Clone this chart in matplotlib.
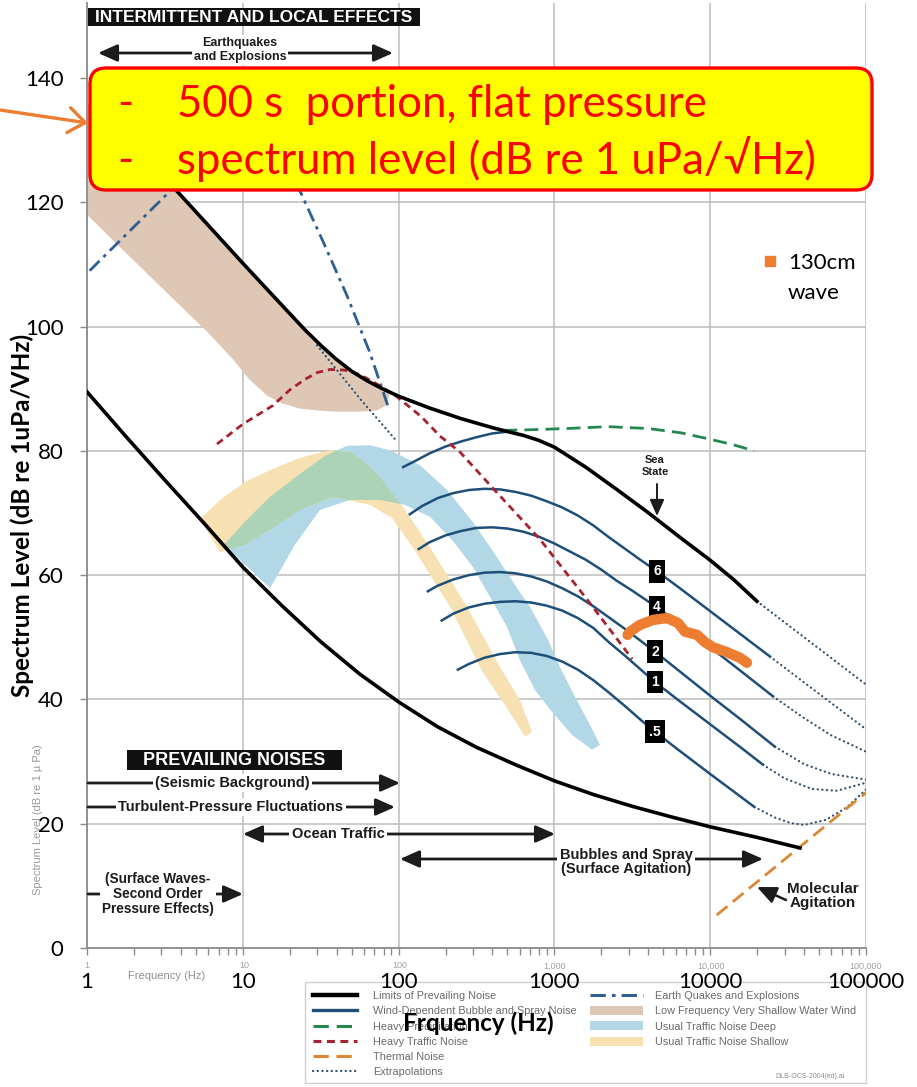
import matplotlib
matplotlib.use("Agg")
import matplotlib.pyplot as plt
import matplotlib.transforms as mtransforms
from matplotlib.patches import FancyBboxPatch, FancyArrowPatch, Rectangle, Patch
from matplotlib.lines import Line2D
from matplotlib.ticker import LogLocator, NullFormatter

W, H = 917, 1087

# ---------------- Wenz curve data (frequency Hz, level dB) ----------------
# limits of prevailing noise
upper_f = [1.5, 2.5, 3.78, 6, 10, 15.6, 25, 31.6, 39.8, 50.1, 63.1, 79.4, 100, 158,
           251, 398, 501, 631, 794, 1000, 1585, 2512, 3981, 6310, 10000, 14125, 19950]
upper_db = [132, 126.5, 121.8, 116.3, 110.2, 105, 99.5, 97.0, 94.75, 92.8, 91.25,
            89.95, 88.8, 86.9, 85.2, 83.75, 83.1, 82.5, 81.7, 80.6, 77.4, 73.8, 70.1,
            66.2, 62.4, 59.3, 55.8]
lower_f = [1, 1.78, 3.16, 5.62, 10, 17.8, 31.6, 56.2, 100, 178, 316, 562, 1000, 1778,
           3162, 5623, 10000, 20000, 37700]
lower_db = [89.5, 82.3, 75.3, 68.4, 61.3, 55.1, 49.3, 44.1, 39.6, 35.6, 32.3, 29.5,
            26.9, 24.7, 22.8, 21.1, 19.5, 17.8, 16.1]

# wind dependent bubble and spray noise, one curve per sea state
ss_top_f = [107, 126, 158, 200, 251, 316, 398, 501]
ss_top_db = [77.4, 78.3, 79.6, 80.7, 81.5, 82.2, 82.8, 83.1]
ss6_f = [118, 141, 178, 224, 282, 355, 447, 562, 708, 891, 1122, 1413, 1778, 2239,
         2818, 3548, 4560, 6310, 10000, 15850, 24200]
ss6_db = [69.8, 71.1, 72.4, 73.2, 73.7, 73.9, 73.8, 73.4, 72.8, 71.9, 70.9, 69.6,
          68.0, 66.1, 64.3, 62.5, 60.6, 58.0, 54.2, 50.4, 46.9]
ss4_f = [134.6, 158, 200, 251, 316, 398, 501, 631, 794, 1000, 1259, 1585, 1995,
         2512, 3162, 4560, 6310, 10000, 15850, 25300]
ss4_db = [64.2, 65.3, 66.4, 67.1, 67.6, 67.7, 67.5, 67.0, 66.2, 65.1, 63.8, 62.5,
          60.9, 59.1, 57.5, 54.8, 52.2, 48.4, 44.5, 40.5]
ss2_f = [154, 178, 224, 282, 355, 447, 562, 708, 891, 1122, 1413, 1778, 2239, 2818,
         3548, 4420, 6310, 10000, 15850, 26000]
ss2_db = [57.4, 58.3, 59.3, 60.0, 60.4, 60.5, 60.3, 59.8, 59.0, 57.9, 56.6, 55.0,
          53.2, 51.4, 49.5, 47.7, 44.6, 40.6, 36.7, 32.4]
ss1_f = [189, 224, 282, 355, 447, 562, 708, 891, 1122, 1413, 1778, 2239, 2818, 3548,
         4420, 6310, 10000, 15850, 21800]
ss1_db = [52.7, 53.8, 54.8, 55.4, 55.7, 55.8, 55.6, 55.1, 54.3, 53.1, 51.5, 49.2,
          47.1, 44.9, 42.8, 39.8, 36.0, 32.2, 29.5]
ss05_f = [240, 282, 355, 447, 562, 708, 891, 1122, 1413, 1778, 2239, 2818, 3548,
          4420, 6310, 10000, 14125, 19200]
ss05_db = [44.8, 45.7, 46.7, 47.3, 47.6, 47.5, 47.0, 46.1, 44.8, 43.1, 41.1, 39.0,
           36.8, 34.8, 31.8, 28.0, 25.2, 22.7]

# extrapolations (dotted)
ext_upper_f = [19950, 100000]
ext_upper_db = [55.8, 42.4]
ext6_f = [24200, 50000, 100000]
ext6_db = [46.9, 40.9, 35.2]
ext4_f = [25300, 40000, 60000, 100000]
ext4_db = [40.5, 37.0, 34.2, 31.6]
ext2_f = [26000, 40000, 60000, 100000]
ext2_db = [32.4, 29.6, 28.0, 27.1]
ext1_f = [21800, 30000, 45000, 65000, 100000]
ext1_db = [29.5, 27.3, 25.6, 25.3, 26.6]
ext05_f = [19200, 26000, 33000, 40000, 55000, 75000, 100000]
ext05_db = [22.7, 21.0, 20.1, 19.8, 20.6, 22.6, 25.5]
ext_lf_f = [29.9, 56.5, 97.7]
ext_lf_db = [97.0, 88.4, 81.5]

# other sources
traffic_f = [6.83, 10, 15.6, 20, 25, 30, 36.3, 45, 56, 70, 85, 97.7, 140, 184, 248,
             406, 806, 1620, 3160]
traffic_db = [81.1, 84.3, 87.3, 89.8, 91.5, 92.6, 93.1, 93.0, 92.3, 91.0, 89.7, 88.7,
              85.5, 82.4, 79.8, 73.9, 65.8, 56.1, 46.5]
rain_f = [470, 700, 1200, 2200, 4000, 6500, 9500, 14000, 19200]
rain_db = [83.3, 83.4, 83.6, 83.9, 83.6, 82.9, 82.0, 81.0, 80.0]
quake_f = [1.04, 1.9, 3.41, 5, 8, 12, 17, 23.3, 33, 46.6, 65, 86]
quake_db = [109, 115.5, 121.8, 126, 130, 131, 128, 121.8, 113.5, 105, 96, 87]
thermal_f = [11000, 100000]
thermal_db = [5.3, 25.0]

# shaded regions: upper edge left->right, lower edge right->left
lfw_f = [1, 1.5, 2.5, 3.78, 6, 10, 15.6, 25, 31.6, 39.8, 50.1, 63.1, 79.4, 88,
         84, 72.8, 55, 40, 30, 23.3, 18, 14.3, 11, 8.6, 6, 3.56, 2, 1]
lfw_db = [136, 132, 126.5, 121.8, 116.3, 110.2, 105, 99.5, 97.0, 94.75, 92.8, 91.25, 89.95, 89.3,
          87.4, 86.5, 86.3, 86.3, 86.5, 86.8, 87.6, 88.9, 91.5, 94.8, 99, 104.5, 110.6, 118]
deep_f = [7.57, 10.33, 14.95, 23.3, 33.7, 46.6, 65.5, 88.1, 137, 205, 309, 428, 559,
          697, 910, 1086, 1356, 1692, 1962,
          1743, 1297, 965, 751, 601, 496, 386, 300, 220, 159, 110, 76, 48.8, 31.3, 21.6, 14.95]
deep_db = [64.9, 68.6, 72.6, 76.3, 79.2, 80.8, 80.9, 80.1, 77.7, 73.7, 68.1, 62.9, 58.4,
           54.9, 49.6, 45.2, 40.4, 35.9, 32.7,
           31.9, 34.3, 38.0, 41.5, 46.3, 51.7, 56.5, 61.3, 65.7, 69.4, 71.3, 72.1, 72.1, 70.5, 64.9, 57.9]
shallow_f = [5.31, 7.14, 10.33, 14.95, 23.3, 36.3, 48.8, 60.8, 76.0, 110, 159, 275, 448, 601, 718,
             648, 482, 348, 214, 127, 90.7, 65.5, 37.9, 23.3, 14.95, 10.33, 7.14]
shallow_db = [69.0, 72.1, 75.0, 76.9, 78.9, 80.1, 79.8, 78.2, 75.8, 70.5, 64.5, 54.9, 45.2, 39.9, 34.8,
              34.0, 39.1, 44.3, 54.9, 64.0, 69.2, 71.3, 72.6, 70.5, 67.3, 64.9, 63.7]

# measured 130 cm wave spectrum
wave_f = [2950, 3055, 3540, 4295, 5285, 6210, 6890, 8225, 9260, 10420, 12820, 15530, 17220]
wave_db = [50.4, 50.9, 52.0, 52.8, 53.1, 52.3, 50.9, 50.4, 49.2, 48.4, 47.6, 46.7, 45.9]

sea_state_labels = ["6", "4", "2", "1", ".5"]
sea_state_pos_f = [4560, 4560, 4420, 4420, 4420]
sea_state_pos_db = [60.6, 54.8, 47.7, 42.8, 34.8]

x_ticks = [1, 10, 100, 1000, 10000, 100000]
x_ticklabels = ["1", "10", "100", "1000", "10000", "100000"]
scan_xlabels = ["1", "10", "100", "1,000", "10,000", "100,000"]
y_ticks = [0, 20, 40, 60, 80, 100, 120, 140]

# ---------------- colours ----------------
NAVY = "#1f4f78"
C_LFW = "#dfc7b6"
C_DEEP = "#b2d7e6"
C_SHALLOW = "#f7e0b2"
C_BOTH = "#acd3b6"
C_TRAFFIC = "#a5232f"
C_RAIN = "#23874f"
C_QUAKE = "#2f5e94"
C_THERMAL = "#d98834"
C_DOT = "#2d4f6e"
C_WAVE = "#ed7d31"
SCAN = "Liberation Sans"

plt.rcParams["font.family"] = ["Lato", "DejaVu Sans"]

fig = plt.figure(figsize=(W / 100, H / 100), dpi=100)
ax = fig.add_axes([87 / W, 139 / H, 779 / W, 152 * 6.214 / H])
PX = mtransforms.Affine2D().scale(1, -1).translate(0, H)

ax.set_xscale("log")
ax.set_xlim(1, 1e5)
ax.set_ylim(0, 152)

# shaded regions
ax.fill(lfw_f, lfw_db, color=C_LFW, lw=0, zorder=1)
deep = ax.fill(deep_f, deep_db, color=C_DEEP, lw=0, zorder=1)[0]
ax.fill(shallow_f, shallow_db, color=C_SHALLOW, lw=0, zorder=1.1)
both = ax.fill(shallow_f, shallow_db, color=C_BOTH, lw=0, zorder=1.2)[0]
both.set_clip_path(deep)

# curves
ax.plot(upper_f, upper_db, color="black", lw=2.6, zorder=4)
ax.plot(lower_f, lower_db, color="black", lw=2.6, zorder=4)
for f, d in [(ss_top_f, ss_top_db), (ss6_f, ss6_db), (ss4_f, ss4_db),
             (ss2_f, ss2_db), (ss1_f, ss1_db), (ss05_f, ss05_db)]:
    ax.plot(f, d, color=NAVY, lw=1.8, zorder=3)
for f, d in [(ext_upper_f, ext_upper_db), (ext6_f, ext6_db), (ext4_f, ext4_db),
             (ext2_f, ext2_db), (ext1_f, ext1_db), (ext05_f, ext05_db),
             (ext_lf_f, ext_lf_db)]:
    ax.plot(f, d, color=C_DOT, lw=1.6, ls=(0, (0.1, 2.0)), dash_capstyle="round", zorder=3)
ax.plot(traffic_f, traffic_db, color=C_TRAFFIC, lw=2.0, ls=(0, (2.6, 1.8)), zorder=3.5)
ax.plot(rain_f, rain_db, color=C_RAIN, lw=2.0, ls=(0, (5, 2.6)), zorder=3)
ax.plot(quake_f, quake_db, color=C_QUAKE, lw=2.0, ls=(0, (5, 2, 1.2, 2)), zorder=3)
ax.plot(thermal_f, thermal_db, color=C_THERMAL, lw=2.0, ls=(0, (5, 2.5)), zorder=3)

# sea state tags
for lab, f, d in zip(sea_state_labels, sea_state_pos_f, sea_state_pos_db):
    ax.text(f, d, lab, ha="center", va="center", color="white", fontsize=10,
            fontweight="bold", family=SCAN, zorder=6,
            bbox=dict(boxstyle="square,pad=0.32", fc="black", ec="none"))

# measured overlay
ax.plot(wave_f, wave_db, color=C_WAVE, lw=7.5, solid_capstyle="round",
        solid_joinstyle="round", zorder=10)

# axes styling
ax.set_xticks(x_ticks)
ax.set_xticklabels(x_ticklabels)
ax.xaxis.set_minor_locator(LogLocator(base=10, subs=range(2, 10)))
ax.xaxis.set_minor_formatter(NullFormatter())
ax.set_yticks(y_ticks)
ax.grid(True, which="major", color="#bdbdbd", lw=1.1, zorder=0)
ax.set_axisbelow(True)
ax.tick_params(which="both", direction="out", length=5, width=1, color="#8c8c8c")
ax.tick_params(which="major", labelsize=16, pad=12)
for s in ["top", "right"]:
    ax.spines[s].set_visible(False)
for s in ["left", "bottom"]:
    ax.spines[s].set_color("#8c8c8c")
    ax.spines[s].set_linewidth(1.3)

ax.set_ylabel("Spectrum Level (dB re 1uPa/VHz)", fontsize=17.5, fontweight="bold")
ax.yaxis.set_label_coords(-0.083, 0.458)
ax.yaxis.label.set_va("center")
ax.set_xlabel("Frquency (Hz)", fontsize=17.5, fontweight="bold")
ax.xaxis.set_label_coords(0.502, -0.0794)
ax.xaxis.label.set_va("center")

# ---------------- annotations from the printed curve sheet ----------------
def note(x, y, s, size=10.5, **kw):
    kw.setdefault("ha", "center")
    kw.setdefault("va", "center")
    kw.setdefault("color", "#1c1c1c")
    kw.setdefault("fontweight", "bold")
    return fig.text(x, y, s, transform=PX, fontsize=size, family=SCAN, **kw)


def arrow(p0, p1, style="-|>", lw=2.0, color="#1c1c1c", scale=13, z=3):
    a = FancyArrowPatch(p0, p1, transform=PX, lw=lw, color=color, zorder=z,
                        arrowstyle=style + ",head_length=0.9,head_width=0.4",
                        mutation_scale=scale, shrinkA=0, shrinkB=0)
    fig.add_artist(a)


white_bg = dict(boxstyle="square,pad=0.15", fc="white", ec="none")

fig.add_artist(Rectangle((88, 8), 332, 18, transform=PX, fc="#111111", ec="none"))
note(254, 17.5, "INTERMITTENT AND LOCAL EFFECTS", size=12.5, color="white")

arrow((98, 53), (393, 53), style="<|-|>")
note(240, 50, "Earthquakes\nand Explosions", size=9, linespacing=1.15, bbox=white_bg)

fig.add_artist(Rectangle((127, 750), 215, 20, transform=PX, fc="#111111", ec="none"))
note(234, 760.5, "PREVAILING NOISES", size=13, color="white")

arrow((88, 783), (400, 783))
note(232, 783, "(Seismic Background)", bbox=white_bg)
arrow((88, 807), (395, 807))
note(231, 807, "Turbulent-Pressure Fluctuations", bbox=white_bg)
arrow((243, 834), (555, 834), style="<|-|>")
note(338, 834, "Ocean Traffic", bbox=white_bg)
arrow((400, 859), (763, 859), style="<|-|>")
note(626, 862, "Bubbles and Spray\n(Surface Agitation)", linespacing=1.0, bbox=white_bg)
arrow((88, 894), (243, 894))
note(158, 894, "(Surface Waves-\nSecond Order\nPressure Effects)", size=9.8,
     linespacing=1.05, bbox=white_bg)
note(823, 896, "Molecular\nAgitation", size=11, linespacing=1.0)
arrow((786, 900), (757, 887), lw=1.8)
note(655, 466, "Sea\nState", size=8, linespacing=1.3)
arrow((657, 484), (657, 516), lw=1.4, scale=11)

# scanned sheet's own axis text
for x, s in zip([87, 244, 400, 555, 711, 866], scan_xlabels):
    note(x, 966, s, size=6.5, color="#a0a0a0", fontweight="normal", zorder=-1)
note(167, 976, "Frequency (Hz)", size=8, color="#8f8f8f", fontweight="normal", zorder=-1)
note(38, 820, "Spectrum Level (dB re 1 \u00b5 Pa)", size=8, color="#9a9a9a",
     fontweight="normal", rotation=90, zorder=-1)

# sheet legend
fig.add_artist(Rectangle((305, 982), 561, 101, transform=PX, fc="white",
                         ec="#d0d0d0", lw=1.0, zorder=-2))
left_handles = [
    Line2D([], [], color="black", lw=3.2),
    Line2D([], [], color=NAVY, lw=2.4),
    Line2D([], [], color=C_RAIN, lw=2.2, ls=(0, (5, 2.6))),
    Line2D([], [], color=C_TRAFFIC, lw=2.2, ls=(0, (2.6, 1.8))),
    Line2D([], [], color=C_THERMAL, lw=2.2, ls=(0, (5, 2.5))),
    Line2D([], [], color=C_DOT, lw=1.6, ls=(0, (0.1, 2.0)), dash_capstyle="round"),
]
left_labels = ["Limits of Prevailing Noise", "Wind-Dependent Bubble and Spray Noise",
               "Heavy Precipitation", "Heavy Traffic Noise", "Thermal Noise", "Extrapolations"]
right_handles = [
    Line2D([], [], color=C_QUAKE, lw=2.2, ls=(0, (5, 2, 1.2, 2))),
    Patch(fc=C_LFW, ec="none"),
    Patch(fc=C_DEEP, ec="none"),
    Patch(fc=C_SHALLOW, ec="none"),
]
right_labels = ["Earth Quakes and Explosions", "Low Frequency Very Shallow Water Wind",
                "Usual Traffic Noise Deep", "Usual Traffic Noise Shallow"]
leg_kw = dict(frameon=False, loc="upper left", bbox_transform=PX, borderpad=0,
              borderaxespad=0, handleheight=0.9, labelspacing=0.46,
              prop=dict(family=SCAN, size=7.8))
leg1 = fig.legend(left_handles, left_labels, bbox_to_anchor=(313, 991),
                  handlelength=4.1, handletextpad=1.45, **leg_kw)
leg2 = fig.legend(right_handles, right_labels, bbox_to_anchor=(590, 991),
                  handlelength=4.9, handletextpad=1.1, **leg_kw)
for lg in (leg1, leg2):
    lg.set_zorder(-1)
    for t in lg.get_texts():
        t.set_color("#6a6a6a")
note(810, 1077, "DLB-OCS-2004(ed).ai", size=5, color="#8a8a8a", fontweight="normal", zorder=-1)

# ---------------- overlay: series key, callout box ----------------
fig.legend([Line2D([], [], ls="none", marker="s", ms=6.5, color=C_WAVE)], ["130cm"],
           loc="upper left", bbox_to_anchor=(762, 253), bbox_transform=PX, frameon=False,
           borderpad=0, borderaxespad=0, handlelength=0.7, handletextpad=0.5,
           prop=dict(size=16))
fig.text(788, 293, "wave", transform=PX, fontsize=16, va="center", ha="left")

box = FancyBboxPatch((90, 68), 782, 122, boxstyle="round,pad=0,rounding_size=16",
                     transform=PX, fc="#ffff00", ec="#ff0000", lw=2.4, zorder=30)
fig.add_artist(box)
for y, s in [(117, "500 s  portion, flat pressure"),
             (174, "spectrum level (dB re 1 uPa/\u221aHz)")]:
    fig.text(117, y, "-", transform=PX, fontsize=31.5, color="#ff0000", va="baseline", zorder=31)
    fig.text(177, y, s, transform=PX, fontsize=31.5, color="#ff0000", va="baseline", zorder=31)

fig.add_artist(FancyArrowPatch((0, 110), (88, 123), transform=PX, color=C_WAVE, lw=2.4,
                               arrowstyle="->,head_length=0.6,head_width=0.45",
                               mutation_scale=20, shrinkA=0, shrinkB=0, zorder=29))

fig.savefig("out.png", dpi=100, facecolor="white")
